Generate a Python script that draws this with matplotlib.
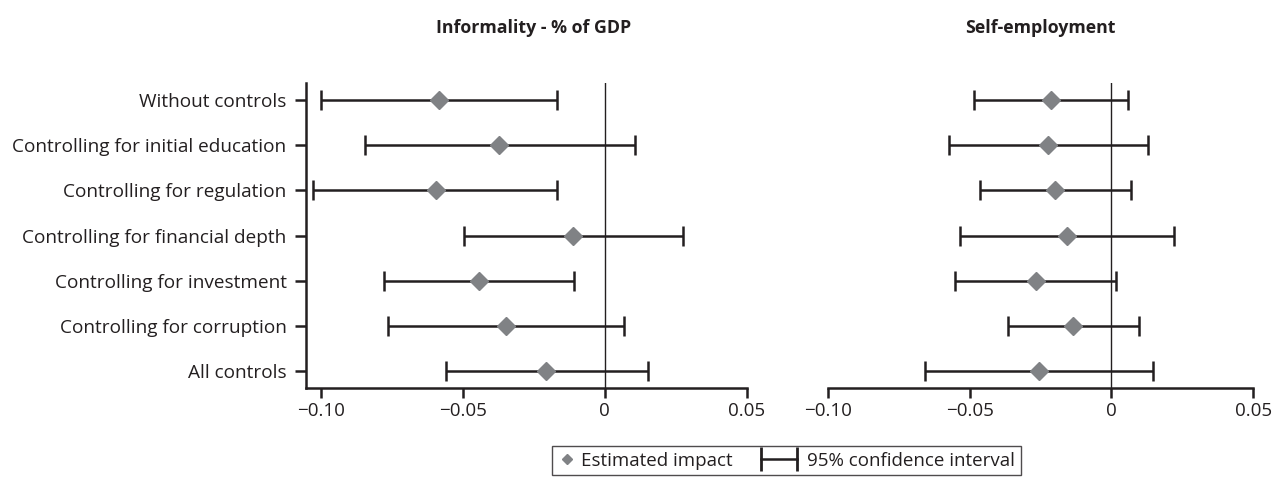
import matplotlib
matplotlib.use('Agg')
import numpy as np
import matplotlib.pyplot as plt
from matplotlib.lines import Line2D
from matplotlib.legend_handler import HandlerLine2D
from matplotlib.ticker import FuncFormatter

plt.rcParams['font.family'] = ['Open Sans', 'DejaVu Sans']

labels = ['Without controls', 'Controlling for initial education', 'Controlling for regulation',
          'Controlling for financial depth', 'Controlling for investment',
          'Controlling for corruption', 'All controls']

inf_est = [-0.0586, -0.0374, -0.0596, -0.0112, -0.0445, -0.0347, -0.0206]
inf_lo = [-0.1002, -0.0845, -0.1030, -0.0497, -0.0780, -0.0763, -0.0559]
inf_hi = [-0.0170, 0.0106, -0.0168, 0.0275, -0.0109, 0.0067, 0.0151]

se_est = [-0.0212, -0.0224, -0.0198, -0.0157, -0.0266, -0.0134, -0.0255]
se_lo = [-0.0486, -0.0573, -0.0462, -0.0533, -0.0552, -0.0366, -0.0658]
se_hi = [0.0059, 0.0128, 0.0069, 0.0220, 0.0016, 0.0096, 0.0147]

titles = ['Informality - % of GDP', 'Self-employment']
xticks = [-0.10, -0.05, 0, 0.05]

ink = '#231f20'
grey = '#808285'

def fmt(v, pos):
    if abs(v) < 1e-9:
        return '0'
    return ('%.2f' % v).replace('-', '\u2212')

# the CI key is wider than the diamond key, so let it spill into the column gap
class CIHandler(HandlerLine2D):
    def get_xdata(self, legend, xdescent, ydescent, width, height, fontsize):
        xd = np.array([-xdescent - 1.2 * fontsize, -xdescent + 0.72 * fontsize])
        return xd, xd

fig = plt.figure(figsize=(12.78, 4.79), dpi=100)
ax1 = fig.add_axes([0.2394, 0.19, 0.3448, 0.6367])
ax2 = fig.add_axes([0.6477, 0.19, 0.3328, 0.6367])

ypos = list(range(len(labels), 0, -1))
for ax, est, lo, hi, title, xmin, tx in [(ax1, inf_est, inf_lo, inf_hi, titles[0], -0.1054, 0.517),
                                         (ax2, se_est, se_lo, se_hi, titles[1], -0.10, 0.5)]:
    ax.axvline(0, color=ink, lw=1, zorder=1)
    err = [[e - l for e, l in zip(est, lo)], [h - e for e, h in zip(est, hi)]]
    ax.errorbar(est, ypos, xerr=err, fmt='none', ecolor=ink, elinewidth=1.8,
                capsize=7.5, capthick=1.8, zorder=2)
    ax.plot(est, ypos, 'D', color=grey, markersize=9, zorder=3, linestyle='none')
    ax.set_xlim(xmin, 0.05)
    ax.set_ylim(0.62, 7.38)
    ax.set_xticks(xticks)
    ax.xaxis.set_major_formatter(FuncFormatter(fmt))
    for s in ['top', 'right']:
        ax.spines[s].set_visible(False)
    ax.spines['bottom'].set_linewidth(1.8)
    ax.spines['bottom'].set_color(ink)
    ax.spines['left'].set_linewidth(1.8)
    ax.spines['left'].set_color(ink)
    ax.tick_params(axis='x', length=7, width=1.8, color=ink, labelsize=13.5, pad=3,
                   labelcolor=ink)
    ax.tick_params(axis='y', length=8, width=1.8, color=ink, labelsize=13.7, pad=6,
                   labelcolor=ink)
    ax.set_title(title, fontsize=12.8, fontweight='bold', pad=0, x=tx, y=1.165, color=ink)

ax1.set_yticks(ypos)
ax1.set_yticklabels(labels)
ax2.set_yticks([])
ax2.spines['left'].set_visible(False)

h_est = Line2D([], [], marker='D', color=grey, linestyle='none', markersize=5)
h_ci = Line2D([0, 1], [0, 0], marker='|', color=ink, linestyle='-', lw=1.8,
              markersize=17, mew=2)
leg = fig.legend([h_est, h_ci], ['Estimated impact', '95% confidence interval'],
                 loc='upper center', bbox_to_anchor=(0.6154, 0.069), ncol=2, fontsize=13.5,
                 frameon=True, fancybox=False, edgecolor=ink, handlelength=1.0,
                 columnspacing=2.7, handletextpad=0.25, borderpad=0.3, borderaxespad=0,
                 handler_map={h_est: HandlerLine2D(numpoints=1),
                              h_ci: CIHandler(numpoints=2)})
leg.get_frame().set_linewidth(1.0)
for t in leg.get_texts():
    t.set_color(ink)

fig.savefig('out.png', dpi=100)
